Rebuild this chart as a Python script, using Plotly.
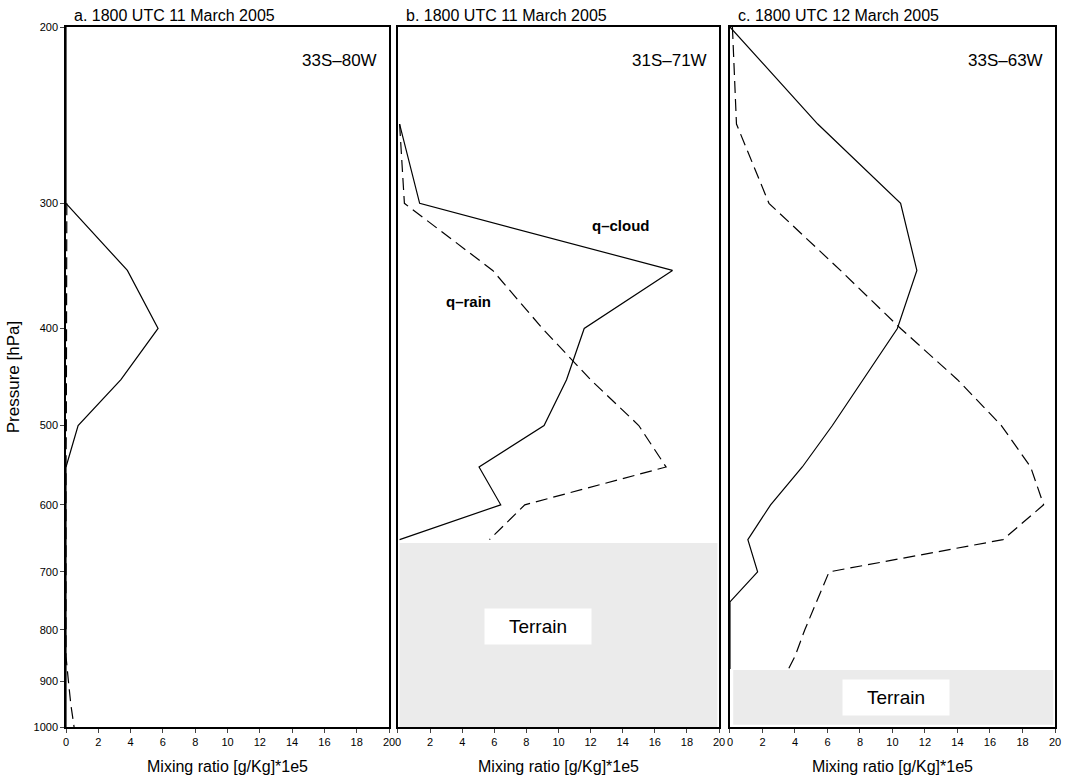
import plotly.graph_objects as go
import numpy as np

# Pressure levels (hPa)
levels = [200, 250, 300, 350, 400, 450, 500, 550, 600, 650, 700, 750, 800, 850, 900, 950, 1000]

# Panel a: 33S-80W
a_cloud = [0, 0, 0, 3.8, 5.7, 3.4, 0.75, 0, 0, 0, 0, 0, 0, 0, 0, 0, 0]
a_rain  = [None, None, 0.05, 0.05, 0.05, 0.05, 0.02, 0, 0, 0, 0, 0, 0, 0, 0.15, 0.3, 0.5]

# Panel b: 31S-71W (above terrain)
b_levels = [250, 300, 350, 400, 450, 500, 550, 600, 650]
b_cloud = [0.1, 1.35, 17.1, 11.6, 10.5, 9.1, 5.05, 6.4, 0.1]
b_rain  = [0.1, 0.4, 5.9, 9.0, 12.0, 15.0, 16.7, 7.9, 5.7]

# Panel c: 33S-63W (above terrain)
c_levels = [200, 250, 300, 350, 400, 450, 500, 550, 600, 650, 700, 750, 800, 850, 875]
c_cloud = [0, 5.4, 10.5, 11.5, 10.3, 8.2, 6.3, 4.45, 2.5, 1.1, 1.7, 0, 0, 0, 0]
c_rain  = [0.15, 0.4, 2.4, 6.8, 10.5, 14.0, 16.7, 18.5, 19.3, 16.8, 6.1, 5.3, 4.6, 4.0, 3.6]

titles = ["a. 1800 UTC 11 March 2005", "b. 1800 UTC 11 March 2005", "c. 1800 UTC 12 March 2005"]
locations = ["33S\u201380W", "31S\u201371W", "33S\u201363W"]
xticks = list(range(0, 21, 2))
yticks = [200, 300, 400, 500, 600, 700, 800, 900, 1000]

# Terrain extents (pressure top, x-left, x-right, pressure bottom)
terrain_b = (655, 0.1, 19.9, 1000)
terrain_c = (877, 0.2, 19.9, 995)

font = "Liberation Sans, Arial, sans-serif"
fig = go.Figure()

solid = dict(color="black", width=1.2)
dashed = dict(color="black", width=1.2, dash="12px,6px")

panels = [
    (levels, a_cloud, a_rain),
    (b_levels, b_cloud, b_rain),
    (c_levels, c_cloud, c_rain),
]
axis_ids = ["", "2", "3"]
for (lv, cl, rn), aid in zip(panels, axis_ids):
    fig.add_trace(go.Scatter(x=rn, y=lv, mode="lines", line=dashed, showlegend=False,
                             xaxis="x" + aid, yaxis="y" + aid, connectgaps=False))
    fig.add_trace(go.Scatter(x=cl, y=lv, mode="lines", line=solid, showlegend=False,
                             xaxis="x" + aid, yaxis="y" + aid))

L, R, T, B = 66, 4, 27, 55
W, H = 1065, 782
pw = W - L - R
doms = [(0, (391 - L) / pw), ((400 - L) / pw, (723 - L) / pw), ((734 - L) / pw, 1.0)]

layout = dict(
    width=W, height=H,
    margin=dict(l=L, r=R, t=T, b=B),
    plot_bgcolor="white", paper_bgcolor="white",
    font=dict(family=font, color="black"),
)
for i, aid in enumerate(axis_ids):
    xa = dict(domain=list(doms[i]), range=[0, 20], tickvals=xticks, ticks="outside", ticklen=4,
              showline=True, linecolor="black", linewidth=1.5, mirror=True, showgrid=False,
              zeroline=False, tickfont=dict(size=11, family=font),
              title=dict(text="Mixing ratio [g/Kg]*1e5", font=dict(size=16, family=font), standoff=14),
              anchor="y" + aid)
    ya = dict(type="log", range=[np.log10(1000), np.log10(200)], tickvals=yticks,
              showline=True, linecolor="black", linewidth=1.5, mirror=True, showgrid=False,
              zeroline=False, anchor="x" + aid, tickfont=dict(size=11, family=font))
    if i == 0:
        ya.update(ticks="outside", ticklen=4, ticktext=[str(v) for v in yticks],
                  title=dict(text="Pressure [hPa]", font=dict(size=17, family=font), standoff=10))
    else:
        ya.update(showticklabels=False, ticks="")
    layout["xaxis" + aid] = xa
    layout["yaxis" + aid] = ya
fig.update_layout(**layout)

shapes = []
annots = []
for i, aid in enumerate(axis_ids):
    xr = "x" + aid
    yr = "y" + aid
    annots.append(dict(text=titles[i], xref=xr + " domain", yref=yr + " domain", x=0.02, y=1.0,
                       xanchor="left", yanchor="bottom", showarrow=False, yshift=1,
                       font=dict(size=16, family=font)))
    annots.append(dict(text=locations[i], xref=xr + " domain", yref=yr + " domain", x=0.97, y=0.968,
                       xanchor="right", yanchor="top", showarrow=False,
                       font=dict(size=17, family=font)))

for (ptop, x0, x1, pbot), aid, lab in [(terrain_b, "2", (8.7, 794)), (terrain_c, "3", (10.2, 935))]:
    shapes.append(dict(type="rect", xref="x" + aid, yref="y" + aid, x0=x0, x1=x1,
                       y0=ptop, y1=pbot, fillcolor="#ebebeb",
                       line=dict(width=0), layer="above"))
    annots.append(dict(text="Terrain", xref="x" + aid, yref="y" + aid, x=lab[0], y=np.log10(lab[1]),
                       showarrow=False, bgcolor="white", borderpad=7, width=92, align="center",
                       font=dict(size=19, family=font)))

annots.append(dict(text="<b>q\u2013cloud</b>", xref="x2", yref="y2", x=13.9, y=np.log10(316),
                   showarrow=False, font=dict(size=15, family=font)))
annots.append(dict(text="<b>q\u2013rain</b>", xref="x2", yref="y2", x=4.4, y=np.log10(376),
                   showarrow=False, font=dict(size=15, family=font)))

fig.update_layout(shapes=shapes, annotations=annots)
fig.write_html("out.html")
